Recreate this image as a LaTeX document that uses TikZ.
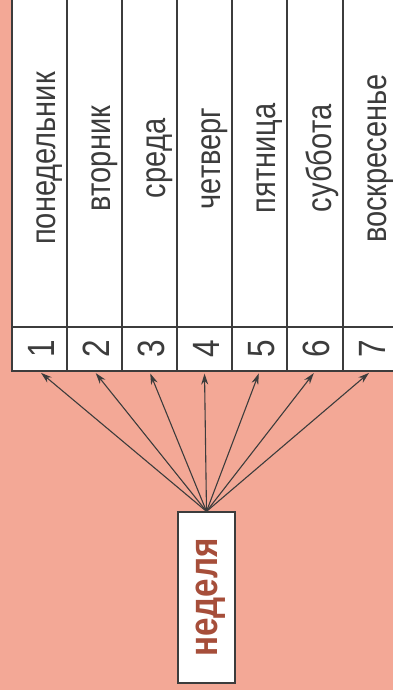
\documentclass[tikz,border=0pt]{standalone}
\usepackage{fontspec}
\setmainfont[FakeStretch=0.83]{Liberation Sans}
\usetikzlibrary{arrows.meta}
\definecolor{salmon}{RGB}{243,168,150}
\definecolor{brick}{RGB}{166,78,58}
\definecolor{ink}{RGB}{60,60,60}

\begin{document}
\begin{tikzpicture}[x=1pt,y=-1pt,
  cell/.style={draw=ink,fill=white,line width=1.2pt,rotate=90,inner sep=0pt},
  day/.style={cell,minimum width=337pt,minimum height=55pt,text=ink,
              text height=32pt,text depth=0pt,font=\fontsize{35}{38}\selectfont},
  num/.style={cell,minimum width=44pt,minimum height=55pt,text=ink,
              text height=29pt,text depth=0pt,font=\fontsize{38}{40}\selectfont},
  link/.style={draw=ink,line width=1.1pt,-{Stealth[length=11pt,width=7pt]},shorten >=2pt}]

% background
\fill[salmon] (0,0) rectangle (393,690);
\useasboundingbox (0,0) rectangle (393,690);

% days
\node[day] (d1) at (39.5,158.5) {понедельник};
\node[day] (d2) at (94.5,158.5) {вторник};
\node[day] (d3) at (149.5,158.5) {среда};
\node[day] (d4) at (204.5,158.5) {четверг};
\node[day] (d5) at (259.5,158.5) {пятница};
\node[day] (d6) at (315,158.5) {суббота};
\node[day] (d7) at (370.5,158.5) {воскресенье};

% numbers
\node[num] (n1) at (39.5,349) {1};
\node[num] (n2) at (94.5,349) {2};
\node[num] (n3) at (149.5,349) {3};
\node[num] (n4) at (204.5,349) {4};
\node[num] (n5) at (259.5,349) {5};
\node[num] (n6) at (315,349) {6};
\node[num] (n7) at (370.5,349) {7};

% week and arrows
\node[cell,minimum width=171pt,minimum height=57pt,text=brick,text height=21pt,text depth=0pt,
      font=\bfseries\fontsize{40}{42}\selectfont] (week) at (206.5,597.5) {неделя};
\path (week.east) edge[link] (n1.west) edge[link] (n2.west) edge[link] (n3.west)
      edge[link] (n4.west) edge[link] (n5.west) edge[link] (n6.west) edge[link] (n7.west);
\end{tikzpicture}
\end{document}
